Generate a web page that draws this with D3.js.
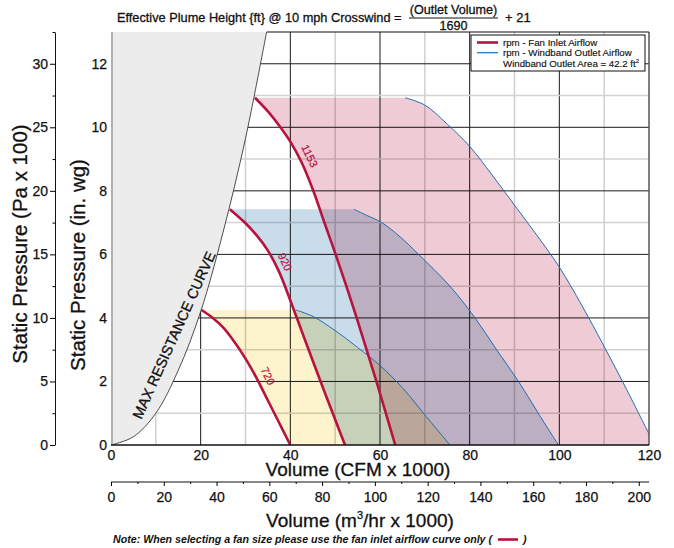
<!DOCTYPE html>
<html>
<head>
<meta charset="utf-8">
<script src="https://cdn.jsdelivr.net/npm/d3@7"></script>
<style>
  body { margin: 0; background: #fff; }
  svg { display: block; font-family: "Liberation Sans", Arial, Helvetica, sans-serif; }
  .axis text { font-family: "Liberation Sans", Arial, Helvetica, sans-serif; font-size: 14px; fill: #111; }
  .ink { stroke: #111; stroke-width: 0.3px; }
  .axis text { stroke: #111; stroke-width: 0.25px; }
</style>
</head>
<body>
<div id="chart"></div>
<script>
// ── Data (CFM x 1000, in. wg) ──────────────────────────────────────────────
const maxResistance = [[0, 0], [5, 0.26], [10, 1.0], [15, 2.35], [20, 4.2], [25, 6.7], [30, 9.65], [34.7, 13]];

const inlet1153 = [[32.1, 10.93], [35, 10.5], [37.7, 10.02], [40, 9.55], [42.5, 8.9], [45, 8.05], [47.6, 7],
  [50.1, 6], [52.5, 5], [54.8, 4], [57, 3], [59.2, 2], [61.3, 1], [63.4, 0]];
const inlet920 = [[26.5, 7.42], [30, 6.98], [32.5, 6.6], [35, 6.12], [37.5, 5.45], [40, 4.55],
  [42.5, 3.6], [45, 2.65], [47.5, 1.72], [50, 0.8], [52.2, 0]];
const inlet720 = [[20.2, 4.25], [22.5, 4.02], [25, 3.7], [27.5, 3.25], [30, 2.72], [32.5, 2.1],
  [35, 1.4], [37.5, 0.7], [40, 0]];

const outlet1153 = [[65.6, 10.93], [70, 10.7], [75, 10.1], [80, 9.4], [85, 8.5], [90, 7.55], [95, 6.6],
  [100, 5.6], [105, 4.4], [110, 3.1], [115, 1.75], [120, 0.35]];
const outlet920 = [[54.2, 7.42], [57, 7.23], [60.4, 7], [64.5, 6.55], [68.6, 6], [75.6, 5], [81.2, 4],
  [86, 3], [90.9, 2], [95.3, 1], [99.8, 0]];
const outlet720 = [[41.2, 4.25], [45, 4.05], [50, 3.6], [55, 3.07], [60, 2.5], [65, 1.8],
  [70, 0.95], [75.6, 0]];

const fanRpms = ["1153", "920", "720"];
const fanFills = ["#efcbd5", "#c9dce9", "#fdf3cc"];
const fanLabelAt = [[44.3, 9.1], [38.8, 5.77], [35.0, 2.17]];

const cfmTicks = [0, 20, 40, 60, 80, 100, 120];
const m3Ticks = [0, 20, 40, 60, 80, 100, 120, 140, 160, 180, 200];
const inwgTicks = [0, 2, 4, 6, 8, 10, 12];
const paTicks = [0, 5, 10, 15, 20, 25, 30];

// ── Layout ─────────────────────────────────────────────────────────────────
const W = 674, H = 548;
const plot = { left: 111, right: 649, top: 32, bottom: 445 };

const x = d3.scaleLinear().domain([0, 120]).range([plot.left, plot.right]);
const y = d3.scaleLinear().domain([0, 13]).range([plot.bottom, plot.top]);
const yPa = d3.scaleLinear().domain([0, 32.5]).range([plot.bottom, plot.top]);
const xM3 = d3.scaleLinear().domain([0, 120 * 1.699]).range([plot.left, plot.right]);

const svg = d3.select("#chart").append("svg").attr("width", W).attr("height", H);
svg.append("rect").attr("width", W).attr("height", H).attr("fill", "#fff");

svg.append("clipPath").attr("id", "plotClip")
  .append("rect")
  .attr("x", plot.left).attr("y", plot.top)
  .attr("width", plot.right - plot.left).attr("height", plot.bottom - plot.top);

const line = d3.line()
  .x((d) => x(d[0]))
  .y((d) => y(d[1]))
  .curve(d3.curveCatmullRom.alpha(0.5));

const g = svg.append("g").attr("clip-path", "url(#plotClip)");

// ── Grid ───────────────────────────────────────────────────────────────────
const vGrid = d3.range(10, 120, 10);
const hGrid = d3.range(1, 13, 1);
g.selectAll(".vgrid").data(vGrid).join("line")
  .attr("x1", (d) => x(d)).attr("x2", (d) => x(d))
  .attr("y1", plot.top).attr("y2", plot.bottom)
  .attr("stroke", (d) => (d % 20 === 0 ? "#1a1a1a" : "#cfcfcf"))
  .attr("stroke-width", (d) => (d % 20 === 0 ? 1 : 1.5));
g.selectAll(".hgrid").data(hGrid).join("line")
  .attr("y1", (d) => y(d)).attr("y2", (d) => y(d))
  .attr("x1", plot.left).attr("x2", plot.right)
  .attr("stroke", (d) => (d % 2 === 0 ? "#1a1a1a" : "#d2d2d2"))
  .attr("stroke-width", (d) => (d % 2 === 0 ? 1 : 1.5));

// ── Max resistance region ──────────────────────────────────────────────────
const mrTop = maxResistance[maxResistance.length - 1];
g.append("path")
  .attr("d", line(maxResistance) + `L${x(0)},${y(13)}Z`)
  .attr("fill", "#ececec");
g.append("path")
  .attr("d", line(maxResistance))
  .attr("fill", "none")
  .attr("stroke", "#222")
  .attr("stroke-width", 0.8);

// ── Operating fills ────────────────────────────────────────────────────────
const fans = [
  { inlet: inlet1153, outlet: outlet1153 },
  { inlet: inlet920, outlet: outlet920 },
  { inlet: inlet720, outlet: outlet720 },
].map((f, i) => ({ ...f, rpm: fanRpms[i], fill: fanFills[i], label: fanLabelAt[i] }));

function fillPath(f) {
  const last = f.outlet[f.outlet.length - 1];
  const back = line(f.outlet.slice().reverse()).replace(/^M/, "L");
  return line(f.inlet) + `L${x(last[0])},${y(0)}` + back + "Z";
}

g.selectAll(".fan-fill").data(fans).join("path")
  .attr("class", "fan-fill")
  .attr("d", fillPath)
  .attr("fill", (d) => d.fill)
  .style("mix-blend-mode", "multiply");

// ── Curves ─────────────────────────────────────────────────────────────────
g.selectAll(".outlet").data(fans).join("path")
  .attr("d", (d) => line(d.outlet))
  .attr("fill", "none")
  .attr("stroke", "#1f6db3")
  .attr("stroke-width", 1);

g.selectAll(".inlet").data(fans).join("path")
  .attr("d", (d) => line(d.inlet))
  .attr("fill", "none")
  .attr("stroke", "#b8123f")
  .attr("stroke-width", 2.6);

svg.selectAll(".rpm-label").data(fans).join("text")
  .attr("transform", (d) => `translate(${x(d.label[0])},${y(d.label[1])}) rotate(64)`)
  .attr("text-anchor", "middle")
  .attr("dy", "0.35em")
  .attr("font-size", 11)
  .attr("fill", "#b8123f")
  .attr("stroke", "#b8123f")
  .attr("stroke-width", 0.2)
  .text((d) => d.rpm);

svg.append("text")
  .attr("class", "ink")
  .attr("transform", `translate(${x(14.05)},${y(3.46)}) rotate(-65.7)`)
  .attr("text-anchor", "middle")
  .attr("dy", "0.35em")
  .attr("font-size", 14.5)
  .attr("fill", "#111")
  .text("MAX RESISTANCE CURVE");

// ── Frame ──────────────────────────────────────────────────────────────────
svg.append("line")
  .attr("x1", plot.left + 1).attr("x2", plot.left + 1)
  .attr("y1", plot.top).attr("y2", plot.bottom)
  .attr("stroke", "#b0b0b0").attr("stroke-width", 2);
svg.append("line")
  .attr("x1", plot.right).attr("x2", plot.right)
  .attr("y1", plot.top).attr("y2", plot.bottom)
  .attr("stroke", "#555").attr("stroke-width", 1.5);
svg.append("line")
  .attr("x1", x(mrTop[0])).attr("x2", plot.right)
  .attr("y1", plot.top).attr("y2", plot.top)
  .attr("stroke", "#111").attr("stroke-width", 1.2);
svg.append("line")
  .attr("x1", plot.left).attr("x2", plot.right)
  .attr("y1", plot.bottom).attr("y2", plot.bottom)
  .attr("stroke", "#111").attr("stroke-width", 1.3);

// ── Axes ───────────────────────────────────────────────────────────────────
const inwgAxis = svg.append("g")
  .attr("class", "axis")
  .attr("transform", `translate(${plot.left},0)`)
  .call(d3.axisLeft(y).tickValues(inwgTicks).tickSize(0).tickPadding(4));
inwgAxis.select(".domain").remove();

const paX = 55;
const paAxis = svg.append("g")
  .attr("class", "axis")
  .attr("transform", `translate(${paX},0)`)
  .call(d3.axisLeft(yPa).tickValues(paTicks).tickSize(5).tickSizeOuter(0).tickPadding(2));
paAxis.select(".domain").attr("stroke", "#111");
svg.append("g")
  .attr("class", "axis")
  .attr("transform", `translate(${paX},0)`)
  .call(d3.axisLeft(yPa).tickValues(d3.range(2.5, 33, 5)).tickSize(2.5).tickFormat(""))
  .select(".domain").remove();

const cfmAxis = svg.append("g")
  .attr("class", "axis")
  .attr("transform", `translate(0,${plot.bottom})`)
  .call(d3.axisBottom(x).tickValues(cfmTicks).tickSize(0).tickPadding(5));
cfmAxis.select(".domain").remove();

const m3Y = 482;
const m3Axis = svg.append("g")
  .attr("class", "axis")
  .attr("transform", `translate(0,${m3Y})`)
  .call(d3.axisBottom(xM3).tickValues(m3Ticks).tickSize(4).tickSizeOuter(0).tickPadding(6));
m3Axis.select(".domain").attr("d", `M${plot.left},0H${plot.right}`).attr("stroke", "#111");
svg.append("g")
  .attr("class", "axis")
  .attr("transform", `translate(0,${m3Y})`)
  .call(d3.axisBottom(xM3).tickValues(d3.range(10, 201, 20)).tickSize(2).tickFormat(""))
  .select(".domain").remove();

// ── Axis titles ────────────────────────────────────────────────────────────
svg.append("text")
  .attr("class", "ink")
  .attr("x", 358).attr("y", 476)
  .attr("text-anchor", "middle")
  .attr("font-size", 19)
  .attr("fill", "#111")
  .text("Volume (CFM x 1000)");

const m3Title = svg.append("text")
  .attr("class", "ink")
  .attr("x", 360).attr("y", 527)
  .attr("text-anchor", "middle")
  .attr("font-size", 19)
  .attr("fill", "#111");
m3Title.append("tspan").text("Volume (m");
m3Title.append("tspan").attr("font-size", 11).attr("dy", -8).text("3");
m3Title.append("tspan").attr("dy", 8).text("/hr x 1000)");

svg.append("text")
  .attr("class", "ink")
  .attr("transform", "translate(85,265) rotate(-90)")
  .attr("text-anchor", "middle")
  .attr("font-size", 20.5)
  .attr("fill", "#111")
  .text("Static Pressure (in. wg)");

svg.append("text")
  .attr("class", "ink")
  .attr("transform", "translate(27,244) rotate(-90)")
  .attr("text-anchor", "middle")
  .attr("font-size", 20.5)
  .attr("fill", "#111")
  .text("Static Pressure (Pa x 100)");

// ── Title with fraction ───────────────────────────────────────────────────
svg.append("text")
  .attr("class", "ink")
  .attr("x", 117).attr("y", 22)
  .attr("font-size", 12.75)
  .attr("fill", "#111")
  .text("Effective Plume Height {ft} @ 10 mph Crosswind =");
svg.append("text")
  .attr("class", "ink")
  .attr("x", 453.5).attr("y", 14)
  .attr("text-anchor", "middle")
  .attr("font-size", 12.6)
  .attr("fill", "#111")
  .text("(Outlet Volume)");
svg.append("line")
  .attr("x1", 409).attr("x2", 498)
  .attr("y1", 18).attr("y2", 18)
  .attr("stroke", "#111").attr("stroke-width", 1);
svg.append("text")
  .attr("class", "ink")
  .attr("x", 453.5).attr("y", 30)
  .attr("text-anchor", "middle")
  .attr("font-size", 12.6)
  .attr("fill", "#111")
  .text("1690");
svg.append("text")
  .attr("class", "ink")
  .attr("x", 505).attr("y", 22)
  .attr("font-size", 13)
  .attr("fill", "#111")
  .text("+ 21");

// ── Legend ─────────────────────────────────────────────────────────────────
const legend = svg.append("g").attr("transform", "translate(471,35)");
legend.append("rect")
  .attr("width", 174).attr("height", 36)
  .attr("fill", "#fff").attr("stroke", "#111").attr("stroke-width", 1);
legend.append("line")
  .attr("x1", 6).attr("x2", 27).attr("y1", 7.5).attr("y2", 7.5)
  .attr("stroke", "#b8123f").attr("stroke-width", 2.6);
legend.append("line")
  .attr("x1", 6).attr("x2", 27).attr("y1", 17.7).attr("y2", 17.7)
  .attr("stroke", "#1f6db3").attr("stroke-width", 1.2);
legend.append("text").attr("x", 32).attr("y", 11).attr("font-size", 9.7).attr("fill", "#111")
  .attr("stroke", "#111").attr("stroke-width", 0.15)
  .text("rpm - Fan Inlet Airflow");
legend.append("text").attr("x", 32).attr("y", 21.2).attr("font-size", 9.7).attr("fill", "#111")
  .attr("stroke", "#111").attr("stroke-width", 0.15)
  .text("rpm - Windband Outlet Airflow");
const areaTxt = legend.append("text").attr("x", 32).attr("y", 31.5).attr("font-size", 9.7).attr("fill", "#111")
  .attr("stroke", "#111").attr("stroke-width", 0.15);
areaTxt.append("tspan").text("Windband Outlet Area = 42.2 ft");
areaTxt.append("tspan").attr("font-size", 6).attr("dy", -4).text("2");

// ── Note ───────────────────────────────────────────────────────────────────
const note = svg.append("text")
  .attr("x", 113).attr("y", 543)
  .attr("font-size", 10.65)
  .attr("font-style", "italic")
  .attr("font-weight", "bold")
  .attr("fill", "#111")
  .text("Note: When selecting a fan size please use the fan inlet airflow curve only (");
const noteEnd = 113 + note.node().getComputedTextLength();
svg.append("line")
  .attr("x1", noteEnd + 6).attr("x2", noteEnd + 26)
  .attr("y1", 539.5).attr("y2", 539.5)
  .attr("stroke", "#b8123f").attr("stroke-width", 2.6);
svg.append("text")
  .attr("x", noteEnd + 31).attr("y", 543)
  .attr("font-size", 10.65)
  .attr("font-style", "italic")
  .attr("font-weight", "bold")
  .attr("fill", "#111")
  .text(")");
</script>
</body>
</html>
